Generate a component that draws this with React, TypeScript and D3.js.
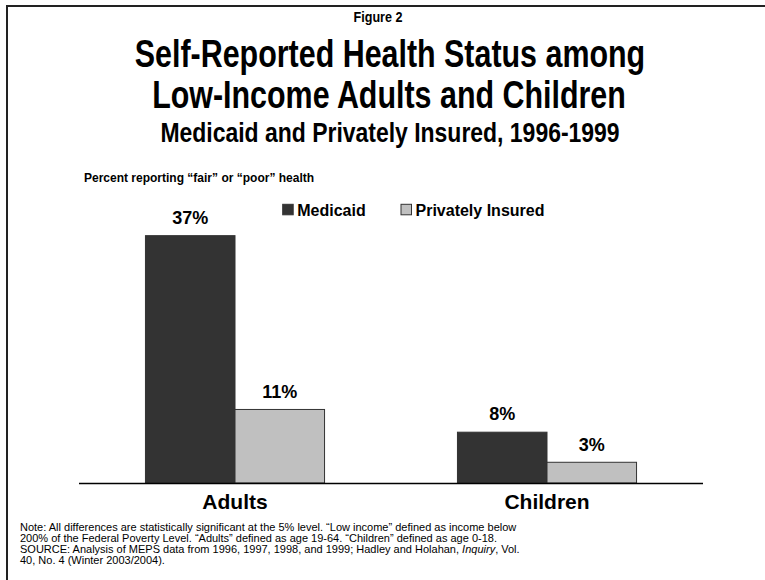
import React from "react";
import * as d3 from "d3";

const categories = ["Adults", "Children"];
const seriesNames = ["Medicaid", "Privately Insured"];
const medicaidValues = [37, 7.6];
const privateValues = [11, 3.1];
const seriesColors = ["#333333", "#c0c0c0"];
const footnoteLines = [
  "Note: All differences are statistically significant at the 5% level.  \u201cLow income\u201d defined as income below",
  "200% of the Federal Poverty Level.  \u201cAdults\u201d defined as age 19-64.  \u201cChildren\u201d defined as age 0-18.",
  "SOURCE: Analysis of MEPS data from 1996, 1997, 1998, and 1999; Hadley and Holahan, ",
  "40, No. 4 (Winter 2003/2004).",
];

const W = 765;
const H = 580;
const FONT = "Liberation Sans, Arial, Helvetica, sans-serif";

function Narrow({ x, y, sx, size, children }: { x: number; y: number; sx: number; size: number; children: React.ReactNode }) {
  return (
    <text transform={`translate(${x},${y}) scale(${sx},1)`} textAnchor="middle" fontSize={size} fontWeight="bold">
      {children}
    </text>
  );
}

export default function App() {
  const x0 = d3.scaleBand<string>().domain(categories).range([79, 703]).paddingInner(0.426).paddingOuter(0.213);
  const x1 = d3.scaleBand<string>().domain(seriesNames).range([0, x0.bandwidth()]);
  const y = d3.scaleLinear().domain([0, 40]).range([483, 215.6]);
  const fmt = d3.format(".0f");
  const series = [medicaidValues, privateValues];

  return (
    <svg width={W} height={H} style={{ display: "block", position: "absolute", left: 0, top: 0 }} fontFamily={FONT}>
      <rect x={0} y={0} width={W} height={H} fill="#fff" />
      <rect x={7} y={6} width={W + 20} height={H + 20} fill="none" stroke="#222" strokeWidth={2} />
      <Narrow x={378} y={22} sx={0.9} size={14}>Figure 2</Narrow>
      <Narrow x={390} y={67} sx={0.78} size={39}>Self-Reported Health Status among</Narrow>
      <Narrow x={389} y={108} sx={0.78} size={39}>Low-Income Adults and Children</Narrow>
      <Narrow x={390} y={142} sx={0.82} size={28}>Medicaid and Privately Insured, 1996-1999</Narrow>
      <text x={84} y={182} fontSize={12} fontWeight="bold">Percent reporting {"\u201cfair\u201d"} or {"\u201cpoor\u201d"} health</text>

      {seriesNames.map((s, i) => {
        const lx = [282.7, 401][i];
        return (
          <g key={s}>
            <rect x={lx} y={204.3} width={10.5} height={10.5} fill={seriesColors[i]} stroke="#333" strokeWidth={1} />
            <text x={lx + 14.5} y={215.7} fontSize={16} fontWeight="bold">{s}</text>
          </g>
        );
      })}

      {categories.map((c, ci) => (
        <g key={c} transform={`translate(${x0(c)},0)`}>
          {seriesNames.map((s, si) => {
            const v = series[si][ci];
            const bx = x1(s)!;
            return (
              <g key={s}>
                <rect x={bx} y={y(v)} width={x1.bandwidth()} height={y(0) - y(v)} fill={seriesColors[si]} stroke="#333" strokeWidth={1} />
                <text x={bx + x1.bandwidth() / 2} y={y(v) - 11.7} textAnchor="middle" fontSize={18} fontWeight="bold">{fmt(v)}%</text>
              </g>
            );
          })}
          <text x={x0.bandwidth() / 2} y={509} textAnchor="middle" fontSize={21} fontWeight="bold">{c}</text>
        </g>
      ))}
      <line x1={79} x2={703} y1={483.5} y2={483.5} stroke="#000" strokeWidth={1.5} />

      <g fontSize={11}>
        {footnoteLines.map((l, i) => (
          <text key={i} x={20} y={531 + i * 11}>
            {l}
            {i === 2 ? <tspan fontStyle="italic">Inquiry</tspan> : null}
            {i === 2 ? ", Vol." : null}
          </text>
        ))}
      </g>
    </svg>
  );
}
